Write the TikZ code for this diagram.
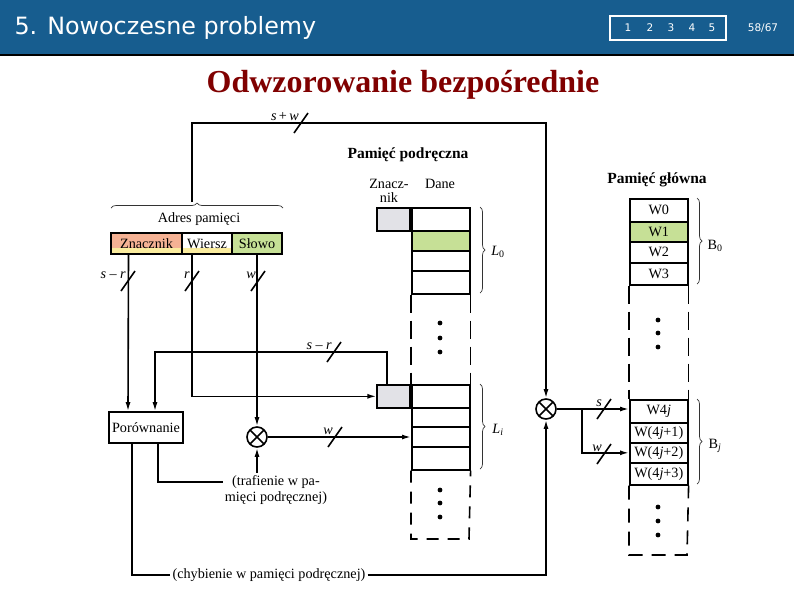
\documentclass[tikz,border=0pt]{standalone}
\usepackage{fontspec}
\setmainfont{Liberation Serif}
\newfontfamily\barfont{DejaVu Sans}
\usetikzlibrary{arrows.meta,positioning,decorations.pathreplacing}
\definecolor{barblue}{RGB}{23,93,143}
\definecolor{titlered}{RGB}{128,0,0}
\definecolor{wordgreen}{RGB}{198,224,150}
\definecolor{taggray}{RGB}{226,226,231}
\definecolor{tagsalmon}{RGB}{245,178,148}
\definecolor{tagyellow}{RGB}{250,236,158}
\newcommand{\dlg}{\fontsize{14.2}{17}\selectfont}
\newcommand{\busmark}[4]{%
  \draw[wire] (#2-7,#3+10) -- (#2+7,#3-10);
  \node[buslbl,anchor=east] (#1) at (#2-1,#3-6) {#4};}

\begin{document}
\begin{tikzpicture}[x=1pt,y=-1pt,
    wire/.style={line width=1.6pt},
    arr/.style={wire,-{Latex[length=9pt,width=5pt]}},
    txt/.style={font=\dlg,inner sep=2pt},
    buslbl/.style={font=\dlg,inner sep=1pt},
    head/.style={font=\bfseries\fontsize{15.5}{18}\selectfont,inner sep=1pt},
    field/.style={draw,wire,minimum height=21pt,inner sep=0,font=\dlg},
    cell/.style={draw,wire,minimum width=58pt,inner sep=0,font=\dlg},
    tagbox/.style={draw,wire,fill=taggray,minimum width=33pt,minimum height=23pt,inner sep=0},
    strip/.style={path picture={\fill[tagyellow] (path picture bounding box.south west)
        rectangle ([yshift=6pt]path picture bounding box.south east);}},
    mult/.style={circle,draw,wire,minimum size=20pt,inner sep=0,
      path picture={\draw[wire] (path picture bounding box.north west) -- (path picture bounding box.south east)
        (path picture bounding box.north east) -- (path picture bounding box.south west);}},
    brc/.style={decorate,decoration={brace,amplitude=5pt},line width=0.7pt,black!80},
    wall/.style={wire,dash pattern=on 18pt off 8pt}
  ]
  \useasboundingbox (0,0) rectangle (794,595);

  \fill[barblue] (0,0) rectangle (794,55);
  \draw[line width=1.5pt] (0,55) -- (794,55);
  \node[anchor=west,text=white,font=\barfont\fontsize{23.8}{27}\selectfont] (chapter) at (11,28) {5. Nowoczesne problemy};
  \node[draw=white,line width=1.2pt,minimum width=116pt,minimum height=24pt] (navbox) at (668,28) {};
  \foreach \i/\xx in {1/628,2/650,3/671,4/692,5/712}
    \node[text=white,font=\barfont\fontsize{10.5}{12}\selectfont] (nav\i) at (\xx,28) {\i};
  \node[text=white,font=\barfont\fontsize{10.5}{12}\selectfont] (pageno) at (763,28) {58/67};
  \node[text=titlered,font=\bfseries\fontsize{32}{36}\selectfont] (title) at (403,85) {Odwzorowanie bezpośrednie};

  % adres
  \node[txt] (adrlbl) at (199,219) {Adres pamięci};
  \draw[brc] (111,208) -- (283,208);
  \coordinate (adrtip) at (192,202);
  \node[field,fill=tagsalmon,strip,minimum width=71pt] (fznacz) at (146.5,243.5) {Znacznik};
  \node[field,fill=white,strip,minimum width=50pt] (fwiersz) at (207,243.5) {Wiersz};
  \node[field,fill=wordgreen,minimum width=50pt] (fslowo) at (257,243.5) {Słowo};

  % pamiec podreczna
  \node[head] (cachehd) at (408,155) {Pamięć podręczna};
  \node[txt,align=center,inner sep=0] (tagcol) at (389,191) {Znacz-\\[-3pt]nik};
  \node[txt] (datacol) at (440,184) {Dane};
  \foreach \n/\ty/\h/\col in {0/207/23/white,1/230/20/wordgreen,2/250/20/white,3/270/23/white}
    \node[cell,fill=\col,minimum height=\h pt,anchor=north west] (cz\n) at (411,\ty) {};
  \foreach \n/\ty/\h in {0/384/23,1/407/19,2/426/20,3/446/23}
    \node[cell,minimum height=\h pt,anchor=north west] (ci\n) at (411,\ty) {};
  \node[tagbox,anchor=north east] (tag0) at (cz0.north west) {};
  \node[tagbox,anchor=north east] (tagi) at (ci0.north west) {};
  \draw[wall] (cz3.south west) -- (ci0.north west);
  \draw[wall] (cz3.south east) -- (ci0.north east);
  \draw[wire,dash pattern=on 12pt off 9pt] (ci3.south west) -- (411,539) -- (469,539) -- (ci3.south east);
  \foreach \y in {323,338,352,490,503,517}
    \fill (440,\y) circle[radius=2.4pt];
  \draw[brc] (480,207) -- (480,293);
  \draw[brc] (480,384) -- (480,469);
  \node[txt] (l0) at (498,252) {\textit{L}\textsubscript{0}};
  \node[txt] (li) at (498,430) {\textit{L}\textsubscript{\textit{i}}};

  % pamiec glowna
  \node[head] (mainhd) at (657,180) {Pamięć główna};
  \foreach \n/\ty/\h/\col/\txt in {0/198/23/white/W0,1/221/20/wordgreen/W1,2/241/21/white/W2,3/262/22/white/W3,
      4/399/23/white/{W4\textit{j}},5/422/20/white/{W(4\textit{j}+1)},6/442/20/white/{W(4\textit{j}+2)},7/462/22/white/{W(4\textit{j}+3)}}
    \node[cell,fill=\col,minimum height=\h pt,anchor=north west] (mm\n) at (629,\ty) {\txt};
  \draw[wall] (mm3.south west) -- (mm4.north west);
  \draw[wall] (mm3.south east) -- (mm4.north east);
  \draw[wire,dash pattern=on 14pt off 9pt] (mm7.south west) -- (629,555) -- (687,555) -- (mm7.south east);
  \foreach \y in {320,333,347,507,521,535}
    \fill (658,\y) circle[radius=2.4pt];
  \draw[brc] (697,198) -- (697,284);
  \draw[brc] (697,399) -- (697,484);
  \node[txt] (b0) at (715,246) {B\textsubscript{0}};
  \node[txt] (bj) at (715,446) {B\textsubscript{\textit{j}}};

  % uklad
  \node[field,minimum width=74pt,minimum height=31pt,fill=white] (cmp) at (146,427.5) {Porównanie};
  \node[mult] (mw) at (257,437) {};
  \node[mult] (mx) at (546,409) {};
  \node[txt,align=center] (hit) at (276,490) {(trafienie w pa-\\mięci podręcznej)};
  \node[txt] (miss) at (269,575) {(chybienie w pamięci podręcznej)};
  \coordinate (top) at (300,123);
  \coordinate (srturn) at (155,352);
  \coordinate (split) at (582,409);

  \draw[arr] (adrtip) |- (top) -| (mx);
  \draw[arr] ([xshift=-18pt]fznacz.south) -- ([xshift=-18pt]cmp.north);
  \draw[arr] ([xshift=-15pt]fwiersz.south) |- (tagi.west);
  \draw[arr] (fslowo.south) -- (mw.north);
  \draw[arr] ([xshift=-6.5pt]tagi.north) |- (srturn) -- (srturn |- cmp.north);
  \draw[arr] (mw.east) -- (mw.east -| ci2.west);
  \draw[wire] ([xshift=12pt]cmp.south) |- ([yshift=8pt]hit.west);
  \draw[arr] (hit.north -| mw) -- (mw.south);
  \draw[wire] ([xshift=-14pt]cmp.south) |- (miss.west);
  \draw[arr] (miss.east) -| (mx.south);
  \draw[arr] (mx.east) -- (mx.east -| mm4.west);
  \draw[arr] (split) |- (mm6.west);

  \busmark{lsw}{301}{123}{\textit{s}\,+\,\textit{w}}
  \busmark{lsr}{128}{281}{\textit{s} – \textit{r}}
  \busmark{lr}{192}{281}{\textit{r}}
  \busmark{lw}{258}{281}{\textit{w}}
  \busmark{lsr2}{334}{352}{\textit{s} – \textit{r}}
  \busmark{lw2}{335}{437}{\textit{w}}
  \busmark{ls3}{604}{409}{\textit{s}}
  \busmark{lw3}{604}{454}{\textit{w}}
\end{tikzpicture}
\end{document}
